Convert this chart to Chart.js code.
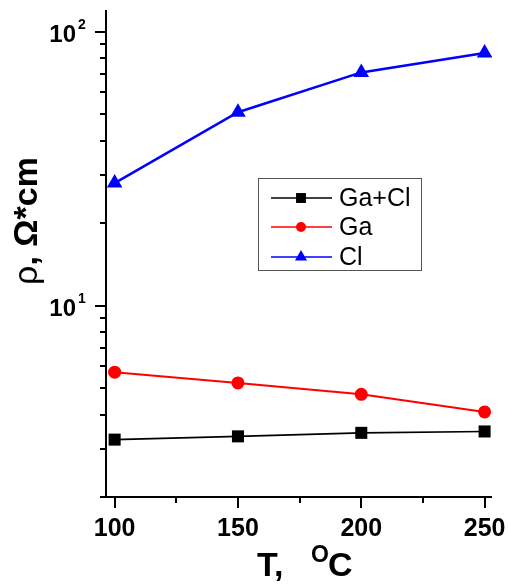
<!DOCTYPE html>
<html>
<head>
<meta charset="utf-8">
<script src="https://cdn.jsdelivr.net/npm/chart.js@4"></script>
<style>
  html, body { margin: 0; padding: 0; background: #fff; }
  canvas { display: block; }
</style>
</head>
<body>
<canvas id="chart" width="508" height="586"></canvas>
<script>
// data
const temps = [100, 150, 200, 250];
const gaCl = [3.24, 3.33, 3.43, 3.47];
const ga = [5.71, 5.22, 4.74, 4.09];
const cl = [28.0, 50.8, 71.0, 83.6];
const seriesNames = ['Ga+Cl', 'Ga', 'Cl'];

const xTicks = [100, 150, 200, 250];
const xMinorTicks = [125, 175, 225];
const yMajorTicks = [10, 100];
const yMajorExp = ['1', '2'];
const yMinorTicks = [2, 3, 4, 5, 6, 7, 8, 9, 20, 30, 40, 50, 60, 70, 80, 90];

const FONT = '"Liberation Sans", Arial, sans-serif';

const toPoints = vals => temps.map((t, i) => ({ x: t, y: vals[i] }));

// axes ticks, y labels, titles and legend
const decorations = {
  id: 'decorations',
  afterDraw(chart) {
    const ctx = chart.ctx;
    const xs = chart.scales.x, ys = chart.scales.y;
    const area = chart.chartArea;
    ctx.save();
    ctx.strokeStyle = '#000';
    ctx.lineWidth = 2;
    ctx.beginPath();
    ctx.moveTo(area.left, area.top);
    ctx.lineTo(area.left, area.bottom);
    ctx.lineTo(area.right, area.bottom);
    ctx.stroke();

    ctx.beginPath();
    yMajorTicks.forEach(v => {
      const y = Math.round(ys.getPixelForValue(v));
      ctx.moveTo(area.left - 11, y); ctx.lineTo(area.left, y);
    });
    yMinorTicks.forEach(v => {
      const y = Math.round(ys.getPixelForValue(v));
      ctx.moveTo(area.left - 6, y); ctx.lineTo(area.left, y);
    });
    xTicks.forEach(v => {
      const x = Math.round(xs.getPixelForValue(v));
      ctx.moveTo(x, area.bottom); ctx.lineTo(x, area.bottom + 11);
    });
    xMinorTicks.forEach(v => {
      const x = Math.round(xs.getPixelForValue(v));
      ctx.moveTo(x, area.bottom); ctx.lineTo(x, area.bottom + 6);
    });
    ctx.stroke();

    // y tick labels 10^n
    ctx.fillStyle = '#000';
    yMajorTicks.forEach((v, i) => {
      const y = ys.getPixelForValue(v);
      ctx.font = 'bold 24px ' + FONT;
      ctx.textAlign = 'right';
      ctx.textBaseline = 'alphabetic';
      ctx.fillText('10', 76, y + 10);
      ctx.font = 'bold 14px ' + FONT;
      ctx.textAlign = 'left';
      ctx.fillText(yMajorExp[i], 78, y - 3);
    });

    // x title
    ctx.textAlign = 'left';
    ctx.font = 'bold 34px ' + FONT;
    ctx.fillText('T,', 257, 576);
    ctx.font = 'bold 23px ' + FONT;
    ctx.fillText('O', 311, 562);
    ctx.font = 'bold 34px ' + FONT;
    ctx.fillText('C', 328, 576);

    // y title
    ctx.save();
    ctx.translate(37, 221);
    ctx.rotate(-Math.PI / 2);
    ctx.font = '34px ' + FONT;
    const w1 = ctx.measureText('\u03C1').width;
    ctx.font = 'bold 34px ' + FONT;
    const w2 = ctx.measureText(', \u03A9*cm').width;
    let x0 = -(w1 + w2) / 2;
    ctx.font = '34px ' + FONT;
    ctx.fillText('\u03C1', x0, 0);
    ctx.font = 'bold 34px ' + FONT;
    ctx.fillText(', \u03A9*cm', x0 + w1, 0);
    ctx.restore();

    // legend
    ctx.strokeStyle = '#555';
    ctx.lineWidth = 1;
    ctx.strokeRect(258.5, 178.5, 163, 92);
    const rows = [198, 227, 257];
    const legendRadius = [7, 5, 7];
    chart.data.datasets.forEach((ds, i) => {
      const y = rows[i];
      ctx.strokeStyle = ds.borderColor;
      ctx.lineWidth = 1.5;
      ctx.beginPath();
      ctx.moveTo(271, y); ctx.lineTo(332, y);
      ctx.stroke();
      ctx.fillStyle = ds.pointBackgroundColor;
      ctx.strokeStyle = ds.pointBackgroundColor;
      Chart.helpers.drawPoint(ctx, {
        pointStyle: ds.pointStyle, radius: legendRadius[i], rotation: 0, borderWidth: 0
      }, 301, y);
      ctx.fillStyle = '#000';
      ctx.font = '25px ' + FONT;
      ctx.textAlign = 'left';
      ctx.textBaseline = 'middle';
      ctx.fillText(ds.label, 339, y + 1);
    });
    ctx.restore();
  }
};

new Chart(document.getElementById('chart'), {
  type: 'line',
  data: {
    datasets: [
      {
        label: seriesNames[0], data: toPoints(gaCl),
        borderColor: '#000', backgroundColor: '#000', pointBackgroundColor: '#000',
        borderWidth: 1.6, pointStyle: 'rect', pointRadius: 8.5, pointBorderWidth: 0
      },
      {
        label: seriesNames[1], data: toPoints(ga),
        borderColor: '#ff0000', backgroundColor: '#ff0000', pointBackgroundColor: '#ff0000',
        borderWidth: 2, pointStyle: 'circle', pointRadius: 6.5, pointBorderWidth: 0
      },
      {
        label: seriesNames[2], data: toPoints(cl),
        borderColor: '#0000ff', backgroundColor: '#0000ff', pointBackgroundColor: '#0000ff',
        borderWidth: 2.5, pointStyle: 'triangle', pointRadius: 9, pointBorderWidth: 0
      }
    ]
  },
  options: {
    responsive: false,
    animation: false,
    layout: { padding: { top: 10, right: 0, left: 0, bottom: 0 } },
    plugins: { legend: { display: false }, tooltip: { enabled: false } },
    scales: {
      x: {
        type: 'linear', min: 96.5, max: 253,
        grid: { display: false },
        border: { display: false },
        afterBuildTicks: s => { s.ticks = xTicks.map(v => ({ value: v })); },
        afterFit: s => { s.height = 89; s.paddingLeft = 0; s.paddingRight = 16; },
        ticks: {
          color: '#000', padding: 9,
          font: { family: FONT, size: 25, weight: 'bold' },
          maxRotation: 0
        }
      },
      y: {
        type: 'logarithmic', min: 2, max: 120,
        grid: { display: false },
        border: { display: false },
        afterFit: s => { s.width = 106; s.paddingTop = 0; s.paddingBottom = 0; },
        ticks: { display: false }
      }
    }
  },
  plugins: [decorations]
});
</script>
</body>
</html>
